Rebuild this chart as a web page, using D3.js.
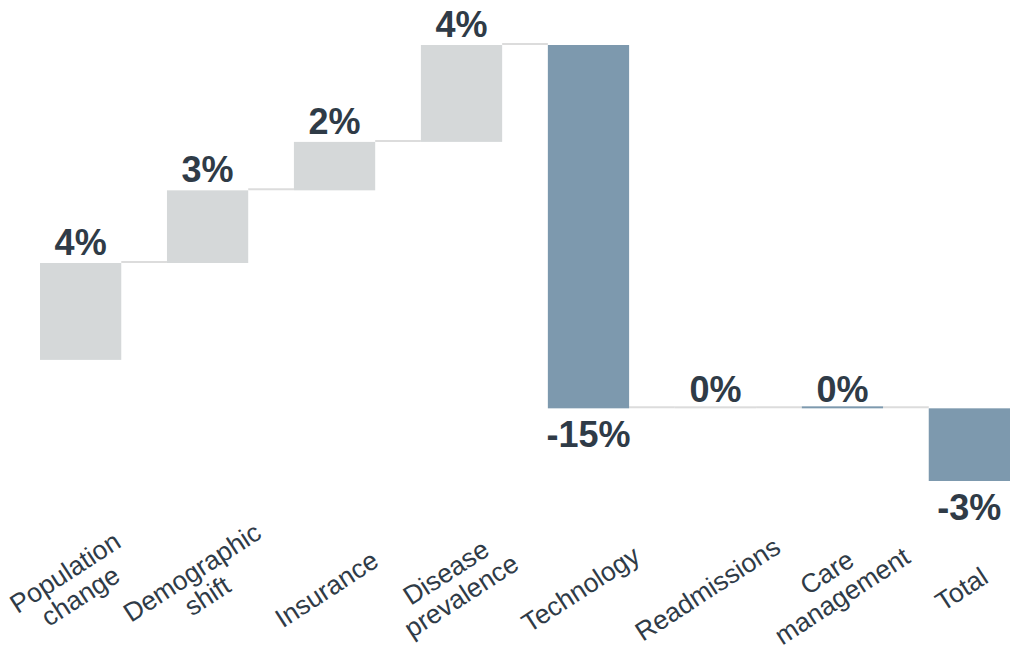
<!DOCTYPE html>
<html>
<head>
<meta charset="utf-8">
<script src="https://cdn.jsdelivr.net/npm/d3@7"></script>
<style>
  html, body { margin: 0; padding: 0; background: #fff; }
  svg { display: block; font-family: "Liberation Sans", Arial, sans-serif; }
</style>
</head>
<body>
<svg id="chart" width="1015" height="653"></svg>
<script>
// Cost driver contributions (percentage points)
const categories = ["Population change", "Demographic shift", "Insurance", "Disease prevalence",
                    "Technology", "Readmissions", "Care management", "Total"];
const categoryLines = [["Population", "change"], ["Demographic", "shift"], ["Insurance"],
                       ["Disease", "prevalence"], ["Technology"], ["Readmissions"],
                       ["Care", "management"], ["Total"]];
const values = [4, 3, 2, 4, -15, 0, 0, -3];
const kinds = ["up", "up", "up", "up", "down", "up", "down", "total"];
const startLevel = 2;

const colors = { up: "#d5d8d9", down: "#7d99ae", total: "#7d99ae" };
const textColor = "#2f3b47";

// Build the waterfall segments
let level = startLevel;
const bars = categories.map((c, i) => {
  let from, to;
  if (kinds[i] === "total") { from = 0; to = values[i]; }
  else { from = level; to = level + values[i]; level = to; }
  return { cat: c, lines: categoryLines[i], value: values[i], kind: kinds[i], from, to };
});

const svg = d3.select("#chart");

const x = d3.scaleBand().domain(categories).range([40, 1010]).paddingInner(0.36).paddingOuter(0);
const y = d3.scaleLinear().domain([-3, 15]).range([481, 45]);

// connectors between consecutive bars
const conn = svg.append("g");
for (let i = 0; i < bars.length - 1; i++) {
  const lvl = bars[i].to;
  conn.append("line")
    .attr("x1", x(bars[i].cat) + x.bandwidth())
    .attr("x2", x(bars[i + 1].cat))
    .attr("y1", y(lvl) - 1).attr("y2", y(lvl) - 1)
    .attr("stroke", "#dcdcdc").attr("stroke-width", 2);
}

// bars
svg.append("g").selectAll("rect").data(bars).join("rect")
  .attr("x", d => x(d.cat))
  .attr("width", x.bandwidth())
  .attr("y", d => Math.min(y(d.from), y(d.to)) - (d.from === d.to ? 2 : 0))
  .attr("height", d => Math.max(2, Math.abs(y(d.from) - y(d.to))))
  .attr("fill", d => d.from === d.to && d.kind === "up" ? "#dcdcdc" : colors[d.kind]);

// value labels
svg.append("g").selectAll("text").data(bars).join("text")
  .attr("x", d => x(d.cat) + x.bandwidth() / 2)
  .attr("y", d => d.value < 0 ? Math.max(y(d.from), y(d.to)) + 39
                              : Math.min(y(d.from), y(d.to)) - (d.value === 0 ? 6 : 8))
  .attr("text-anchor", "middle")
  .attr("font-size", 36).attr("font-weight", "bold")
  .attr("fill", textColor)
  .text(d => d3.format("d")(d.value).replace("−", "-") + "%");

// rotated category labels
const lineH = 28;
const lab = svg.append("g").selectAll("g").data(bars).join("g")
  .attr("transform", d => `translate(${x(d.cat) + x.bandwidth() / 2 - 8},${d.lines.length > 1 ? 584 : 589}) rotate(-33)`);
lab.append("text")
  .attr("text-anchor", "middle")
  .attr("font-size", 26.5)
  .attr("fill", textColor)
  .selectAll("tspan").data(d => d.lines.map((l, k) => ({ l, k, n: d.lines.length }))).join("tspan")
  .attr("x", 0)
  .attr("y", t => (t.k - (t.n - 1) / 2) * lineH)
  .attr("dy", "0.35em")
  .text(t => t.l);
</script>
</body>
</html>
